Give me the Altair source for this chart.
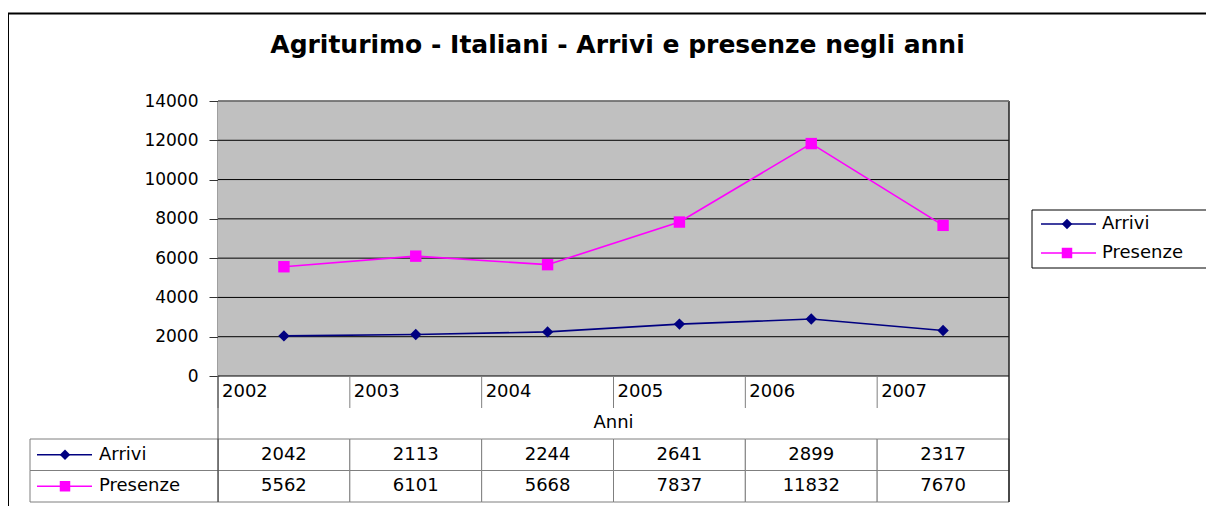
import altair as alt
import pandas as pd

# ---- data ----
years = ["2002", "2003", "2004", "2005", "2006", "2007"]
arrivi = [2042, 2113, 2244, 2641, 2899, 2317]
presenze = [5562, 6101, 5668, 7837, 11832, 7670]
series = ["Arrivi", "Presenze"]
colors = ["#000080", "#FF00FF"]
shapes = ["diamond", "square"]
y_ticks = [0, 2000, 4000, 6000, 8000, 10000, 12000, 14000]
title_text = "Agriturimo - Italiani - Arrivi e presenze negli anni"
x_title = "Anni"
rows = ["labels", "title", "Arrivi", "Presenze"]

# ---- layout ----
W, H = 791, 402
PLOT_H = 275
TABLE_BOTTOM = 401
FONT = "DejaVu Sans"
FS = 18

long = pd.DataFrame({
    "year": years * 2,
    "series": ["Arrivi"] * len(years) + ["Presenze"] * len(years),
    "value": arrivi + presenze,
})
year_df = pd.DataFrame({"year": years, "row": ["labels"] * len(years)})
tick_df = pd.DataFrame({"tick": y_ticks})
series_df = pd.DataFrame({"series": series})
one = pd.DataFrame({"t": [x_title], "row": ["title"]})
blank = pd.DataFrame({"a": [1]})

x_scale = alt.Scale(type="band", domain=years, paddingInner=0, paddingOuter=0)
yq = alt.Scale(domain=[0, 14000], range=[PLOT_H, 0], nice=False, zero=True)
yr = alt.Scale(type="band", domain=rows, range=[PLOT_H, TABLE_BOTTOM], paddingInner=0, paddingOuter=0)
col = alt.Color("series:N", scale=alt.Scale(domain=series, range=colors), legend=None)
shp = alt.Shape("series:N", scale=alt.Scale(domain=series, range=shapes), legend=None)

YAX = alt.Axis(values=y_ticks, grid=False, tickSize=9, tickColor="#333333", tickWidth=1,
               domainColor="#404040", domainWidth=2, labelPadding=11, labelFont=FONT,
               labelFontSize=17, labelColor="black", title=None, format="d",
               labelOverlap=False, labelFlush=False)

# ---- upper plot ----
bg = alt.Chart(blank).mark_rect(fill="#C0C0C0").encode(
    x=alt.value(0), x2=alt.value(W),
    y=alt.Y(datum=0, type="quantitative", scale=yq, axis=YAX),
    y2=alt.Y2(datum=14000),
)
grid = alt.Chart(tick_df).mark_rule(color="black", strokeWidth=1).encode(
    y=alt.Y("tick:Q", scale=yq, axis=YAX),
    x=alt.value(0), x2=alt.value(W),
)
lines = alt.Chart(long).mark_line(strokeWidth=1.6).encode(
    x=alt.X("year:N", scale=x_scale, bandPosition=0.5, axis=None),
    y=alt.Y("value:Q", scale=yq, axis=YAX),
    color=col,
)
points = alt.Chart(long).mark_point(filled=True, opacity=1, size=130).encode(
    x=alt.X("year:N", scale=x_scale, bandPosition=0.5, axis=None),
    y=alt.Y("value:Q", scale=yq, axis=YAX),
    color=col, shape=shp,
)
upper = alt.layer(bg, grid, lines, points)

# ---- data table ----
cells = alt.Chart(long).mark_rect(fill="white", stroke="#7f7f7f", strokeWidth=1).encode(
    x=alt.X("year:N", scale=x_scale, axis=None),
    y=alt.Y("series:N", scale=yr, axis=None),
)
head_cells = alt.Chart(series_df).mark_rect(fill="white", stroke="#7f7f7f", strokeWidth=1).encode(
    x=alt.value(-188), x2=alt.value(0),
    y=alt.Y("series:N", scale=yr, axis=None),
)
seps = alt.Chart(year_df).mark_rule(color="#7f7f7f", strokeWidth=1).encode(
    x=alt.X("year:N", scale=x_scale, bandPosition=0, axis=None),
    y=alt.value(PLOT_H), y2=alt.value(PLOT_H + 32),
)
year_labels = alt.Chart(year_df).mark_text(align="left", baseline="middle", dx=4, font=FONT,
                                           fontSize=FS, color="black").encode(
    x=alt.X("year:N", scale=x_scale, bandPosition=0, axis=None),
    y=alt.Y("row:N", scale=yr, bandPosition=0.5, axis=None),
    text="year:N",
)
anni = alt.Chart(one).mark_text(align="center", baseline="middle", font=FONT, fontSize=FS,
                                color="black").encode(
    x=alt.value(W / 2),
    y=alt.Y("row:N", scale=yr, bandPosition=0.5, axis=None),
    text="t:N",
)
values_txt = alt.Chart(long).mark_text(align="center", baseline="middle", font=FONT, fontSize=FS,
                                       color="black").encode(
    x=alt.X("year:N", scale=x_scale, bandPosition=0.5, axis=None),
    y=alt.Y("series:N", scale=yr, bandPosition=0.5, axis=None),
    text="value:Q",
)
head_line = alt.Chart(series_df).mark_rule(strokeWidth=1.4).encode(
    x=alt.value(-181), x2=alt.value(-126),
    y=alt.Y("series:N", scale=yr, bandPosition=0.5, axis=None),
    color=col,
)
head_pt = alt.Chart(series_df).mark_point(filled=True, opacity=1, size=110).encode(
    x=alt.value(-153),
    y=alt.Y("series:N", scale=yr, bandPosition=0.5, axis=None),
    color=col, shape=shp,
)
head_txt = alt.Chart(series_df).mark_text(align="left", baseline="middle", font=FONT, fontSize=FS,
                                          color="black").encode(
    x=alt.value(-119),
    y=alt.Y("series:N", scale=yr, bandPosition=0.5, axis=None),
    text="series:N",
)
table = alt.layer(cells, head_cells, seps, year_labels, anni, values_txt, head_line, head_pt, head_txt)

# ---- decorations ----
deco = []
deco.append(alt.Chart(blank).mark_rule(color="#404040", strokeWidth=1).encode(
    x=alt.value(0), y=alt.value(PLOT_H), y2=alt.value(TABLE_BOTTOM)))
deco.append(alt.Chart(blank).mark_rule(color="#202020", strokeWidth=1.5).encode(
    x=alt.value(W), y=alt.value(0), y2=alt.value(TABLE_BOTTOM)))
deco.append(alt.Chart(blank).mark_rule(color="#808080", strokeWidth=1.5).encode(
    x=alt.value(0), x2=alt.value(W), y=alt.value(0)))
deco.append(alt.Chart(blank).mark_rect(fill=None, fillOpacity=0, stroke="black", strokeWidth=2).encode(
    x=alt.value(-210), x2=alt.value(W + 600), y=alt.value(-87.5), y2=alt.value(H + 300)))
deco.append(alt.Chart(pd.DataFrame({"t": [title_text]})).mark_text(
    align="center", baseline="alphabetic", font=FONT, fontSize=25, fontWeight="bold", color="black"
).encode(x=alt.value(399.5), y=alt.value(-48), text="t:N"))
# legend
deco.append(alt.Chart(blank).mark_rect(fill="white", stroke="black", strokeWidth=1).encode(
    x=alt.value(814), x2=alt.value(W + 600), y=alt.value(109), y2=alt.value(167)))
leg_y = [123, 152]
for s, c, sh, ly in zip(series, colors, shapes, leg_y):
    sdf = pd.DataFrame({"series": [s]})
    deco.append(alt.Chart(sdf).mark_rule(color=c, strokeWidth=1.4).encode(
        x=alt.value(823), x2=alt.value(878), y=alt.value(ly)))
    deco.append(alt.Chart(sdf).mark_point(filled=True, opacity=1, size=110, color=c, shape=sh).encode(
        x=alt.value(849), y=alt.value(ly)))
    deco.append(alt.Chart(sdf).mark_text(align="left", baseline="middle", font=FONT, fontSize=FS,
                                         color="black").encode(
        x=alt.value(884), y=alt.value(ly), text="series:N"))

chart = alt.layer(upper, table, *deco).resolve_scale(y="independent").properties(
    width=W, height=H,
    autosize=alt.AutoSizeParams(type="none"),
    padding={"left": 210, "top": 93, "right": 197, "bottom": 3},
).configure_view(stroke=None)

chart.save("out.html", embed_options={"renderer": "svg", "actions": False})
